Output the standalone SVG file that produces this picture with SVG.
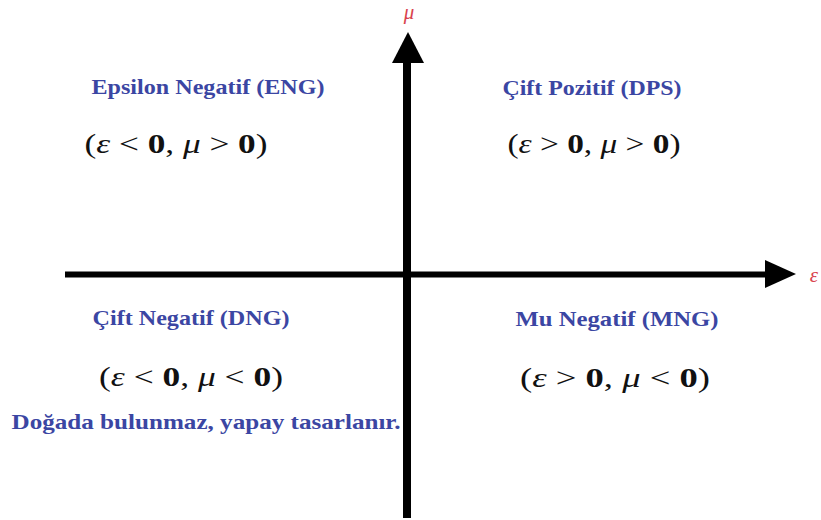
<svg xmlns="http://www.w3.org/2000/svg" width="821" height="520" viewBox="0 0 821 520">
<style>
.t{font-family:'Liberation Serif',serif;font-weight:bold;fill:#3b46a3;font-size:21px;text-anchor:middle}
.m{font-family:'Liberation Serif',serif;fill:#111;font-size:27px;text-anchor:middle}
.i{font-style:italic;font-weight:normal}
.b{font-weight:bold}
.ax{font-family:'Liberation Serif',serif;font-style:italic;fill:#d9434e;font-size:21px;text-anchor:middle}
</style>
<rect width="821" height="520" fill="#fff"/>
<g id="axes">
<line x1="407" y1="55" x2="407" y2="518" stroke="#000" stroke-width="8"/>
<polygon points="408,32 424,63 392,63" fill="#000"/>
<line x1="65" y1="274.5" x2="770" y2="274.5" stroke="#000" stroke-width="6"/>
<polygon points="796,274 765,260 765,288" fill="#000"/>
<text class="ax" x="409" y="19">μ</text>
<text class="ax" x="814" y="282">ε</text>
</g>
<g id="eng">
<text class="t" x="208" y="93.5" textLength="233" lengthAdjust="spacingAndGlyphs">Epsilon Negatif (ENG)</text>
<text class="m" x="176" y="153" textLength="183" lengthAdjust="spacingAndGlyphs">(<tspan class="i">ε</tspan> &lt; <tspan class="b">0</tspan>, <tspan class="i">μ</tspan> &gt; <tspan class="b">0</tspan>)</text>
</g>
<g id="dps">
<text class="t" x="592" y="95" textLength="179" lengthAdjust="spacingAndGlyphs">Çift Pozitif (DPS)</text>
<text class="m" x="594" y="153" textLength="173" lengthAdjust="spacingAndGlyphs">(<tspan class="i">ε</tspan> &gt; <tspan class="b">0</tspan>, <tspan class="i">μ</tspan> &gt; <tspan class="b">0</tspan>)</text>
</g>
<g id="dng">
<text class="t" x="191" y="325" textLength="197" lengthAdjust="spacingAndGlyphs">Çift Negatif (DNG)</text>
<text class="m" x="191" y="386" textLength="184" lengthAdjust="spacingAndGlyphs">(<tspan class="i">ε</tspan> &lt; <tspan class="b">0</tspan>, <tspan class="i">μ</tspan> &lt; <tspan class="b">0</tspan>)</text>
<text class="t" x="206" y="429" textLength="389" lengthAdjust="spacingAndGlyphs">Doğada bulunmaz, yapay tasarlanır.</text>
</g>
<g id="mng">
<text class="t" x="617" y="326" textLength="203" lengthAdjust="spacingAndGlyphs">Mu Negatif (MNG)</text>
<text class="m" x="615" y="387" textLength="190" lengthAdjust="spacingAndGlyphs">(<tspan class="i">ε</tspan> &gt; <tspan class="b">0</tspan>, <tspan class="i">μ</tspan> &lt; <tspan class="b">0</tspan>)</text>
</g>
</svg>
